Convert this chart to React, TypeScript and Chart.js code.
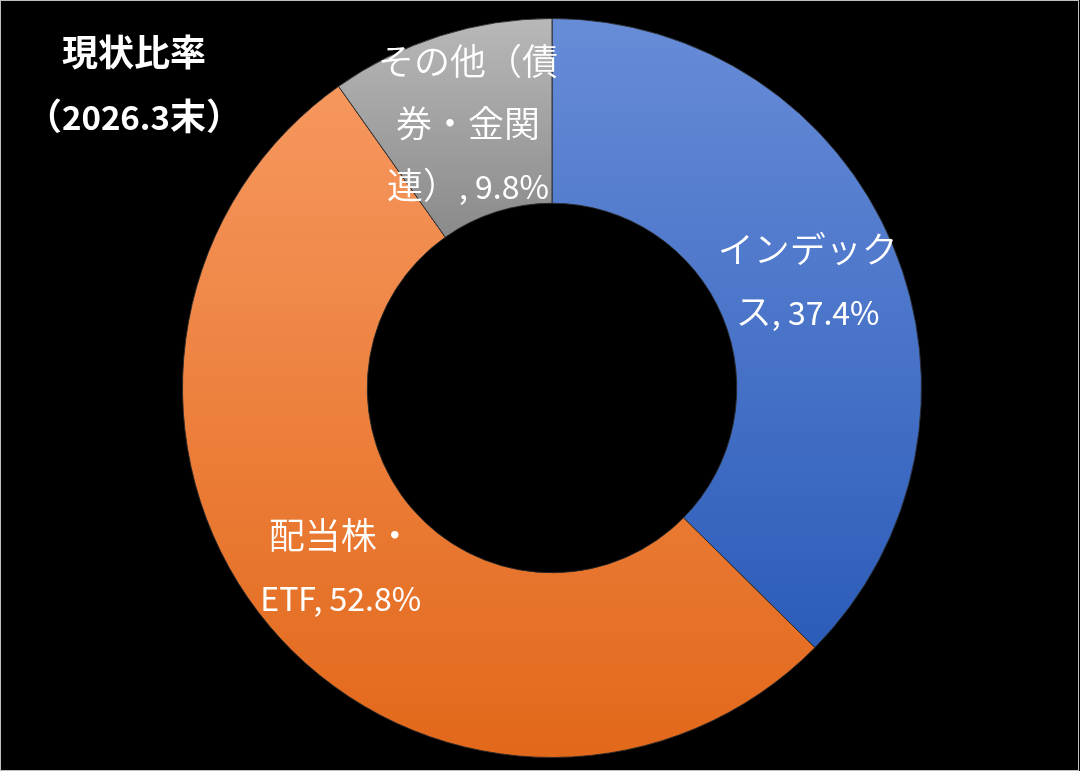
import React, { useEffect, useRef } from 'react';
import { Chart, registerables } from 'chart.js';

Chart.register(...registerables);

// ---- data ----
const categories = ['インデックス', '配当株・ETF', 'その他（債券・金関連）'];
const values = [37.4, 52.8, 9.8];
// character positions where each data label wraps to a new line
const lineBreaks = [[5], [4], [5, 9]];
const titleLines = ['現状比率', '（2026.3末）'];

// ---- styles ----
const gradientStops: [string, string][] = [
  ['#678CD8', '#2C5CB9'],
  ['#F6975E', '#E2681A'],
  ['#B8B8B8', '#8A8A8A'],
];
const FONT_FAMILY = '"Noto Sans CJK JP", "Noto Sans", sans-serif';
const CUTOUT = 0.5;

function labelLines(i: number): string[] {
  const text = `${categories[i]}, ${values[i]}%`;
  const out: string[] = [];
  let prev = 0;
  for (const b of lineBreaks[i]) {
    out.push(text.slice(prev, b));
    prev = b;
  }
  out.push(text.slice(prev));
  return out;
}

function isWide(ch: string) {
  return ch.charCodeAt(0) >= 0x2e80;
}

// draw a line where CJK and Latin runs use different sizes (mimics the reference's mixed fonts)
function drawMixed(
  ctx: CanvasRenderingContext2D,
  text: string,
  cx: number,
  cy: number,
  wideWeight: string,
  narrowWeight: string,
  wideSize: number,
  narrowSize: number,
) {
  const runs: { t: string; wide: boolean }[] = [];
  for (const ch of text) {
    const w = isWide(ch);
    if (runs.length && runs[runs.length - 1].wide === w) runs[runs.length - 1].t += ch;
    else runs.push({ t: ch, wide: w });
  }
  const fontOf = (w: boolean) =>
    `${w ? wideWeight : narrowWeight} ${w ? wideSize : narrowSize}px ${FONT_FAMILY}`;
  let total = 0;
  const widths = runs.map((r) => {
    ctx.font = fontOf(r.wide);
    const w = ctx.measureText(r.t).width;
    total += w;
    return w;
  });
  let x = cx - total / 2;
  ctx.textAlign = 'left';
  ctx.textBaseline = 'alphabetic';
  const baseline = cy + wideSize * 0.36;
  runs.forEach((r, k) => {
    ctx.font = fontOf(r.wide);
    ctx.fillText(r.t, x, baseline);
    x += widths[k];
  });
}

function sliceGradient(ctx: any) {
  const chart = ctx.chart;
  const i = ctx.dataIndex;
  const [c0, c1] = gradientStops[i % gradientStops.length];
  const ca = chart.chartArea;
  if (!ca) return c0;
  const cx = (ca.left + ca.right) / 2;
  const cy = (ca.top + ca.bottom) / 2;
  const R = (Math.min(ca.right - ca.left, ca.bottom - ca.top) - 1) / 2;
  const r = R * CUTOUT;
  const total = values.reduce((a, b) => a + b, 0);
  let a0 = 0;
  for (let j = 0; j < i; j++) a0 += (values[j] / total) * Math.PI * 2;
  const a1 = a0 + (values[i] / total) * Math.PI * 2;
  const ys = [
    cy - R * Math.cos(a0),
    cy - R * Math.cos(a1),
    cy - r * Math.cos(a0),
    cy - r * Math.cos(a1),
  ];
  const eps = 1e-6;
  if (a0 <= eps || a1 >= Math.PI * 2 - eps) ys.push(cy - R);
  if (a0 <= Math.PI && a1 >= Math.PI) ys.push(cy + R);
  const yTop = Math.min(...ys);
  const yBot = Math.max(...ys);
  const g = chart.ctx.createLinearGradient(0, yTop, 0, yBot);
  g.addColorStop(0, c0);
  g.addColorStop(1, c1);
  return g;
}

const backgroundPlugin = {
  id: 'bgFill',
  beforeDraw(chart: any) {
    const { ctx, width, height } = chart;
    ctx.save();
    ctx.fillStyle = '#000000';
    ctx.fillRect(0, 0, width, height);
    ctx.restore();
  },
};

const labelsPlugin = {
  id: 'sliceLabels',
  afterDatasetsDraw(chart: any) {
    const { ctx } = chart;
    const meta = chart.getDatasetMeta(0);
    ctx.save();
    ctx.fillStyle = '#FFFFFF';
    const lh = 62;
    meta.data.forEach((arc: any, i: number) => {
      const p = arc.getCenterPoint();
      const lines = labelLines(i);
      const start = p.y - ((lines.length - 1) * lh) / 2;
      lines.forEach((ln, k) => drawMixed(ctx, ln, p.x, start + k * lh, '350', '400', 36, 32));
    });
    ctx.restore();
  },
  afterDraw(chart: any) {
    const { ctx, width, height } = chart;
    ctx.save();
    ctx.fillStyle = '#FFFFFF';
    titleLines.forEach((t, k) => drawMixed(ctx, t, 134, 53 + k * 64, 'bold', 'bold', 36, 33));
    ctx.strokeStyle = '#BFBFBF';
    ctx.lineWidth = 1;
    ctx.strokeRect(0.5, 0.5, width - 2, height - 1);
    ctx.restore();
  },
};

export default function App() {
  const ref = useRef<HTMLCanvasElement | null>(null);
  useEffect(() => {
    if (!ref.current) return;
    const chart = new Chart(ref.current, {
      type: 'doughnut',
      data: {
        labels: categories,
        datasets: [
          {
            data: values,
            backgroundColor: sliceGradient as any,
            borderColor: 'rgba(40,40,40,0.9)',
            borderWidth: 1,
          },
        ],
      },
      options: {
        responsive: false,
        animation: false,
        events: [],
        cutout: `${CUTOUT * 100}%`,
        rotation: 0,
        layout: { padding: { left: 182, right: 158, top: 18, bottom: 13 } },
        plugins: {
          legend: { display: false },
          tooltip: { enabled: false },
          title: { display: false },
        },
      } as any,
      plugins: [backgroundPlugin, labelsPlugin],
    });
    return () => chart.destroy();
  }, []);
  return (
    <div style={{ position: 'fixed', left: 0, top: 0, width: 1080, height: 771, background: '#000' }}>
      <canvas ref={ref} width={1080} height={771} style={{ display: 'block', width: 1080, height: 771 }} />
    </div>
  );
}
